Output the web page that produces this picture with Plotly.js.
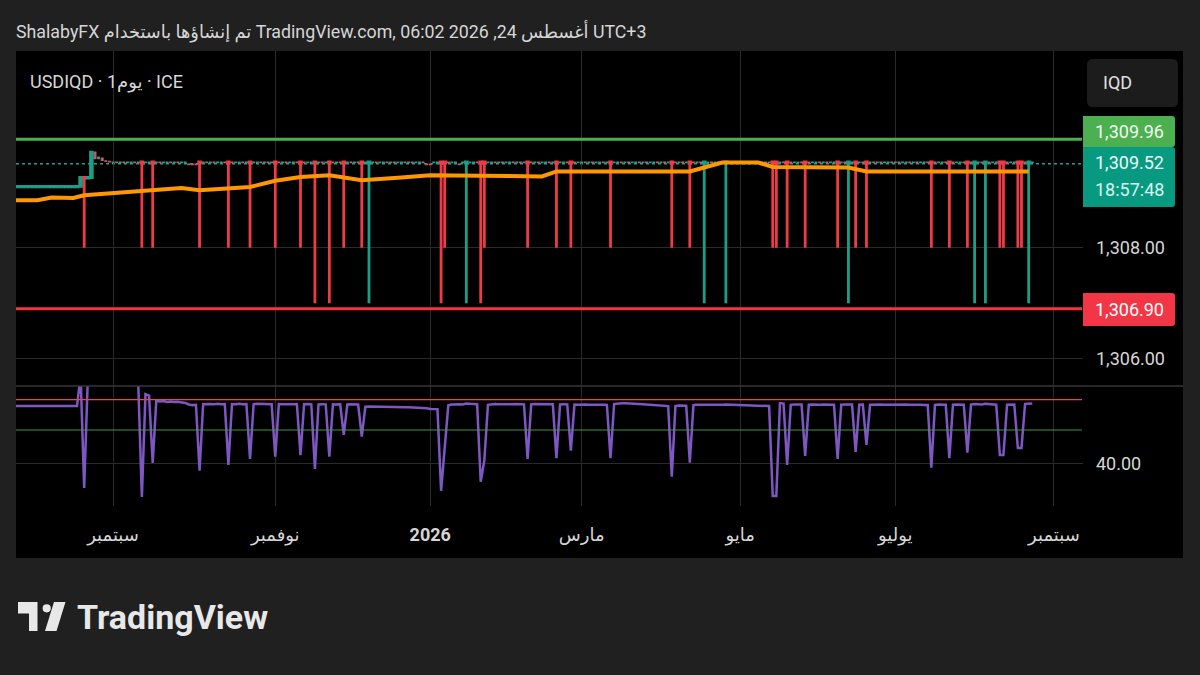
<!DOCTYPE html>
<html>
<head>
<meta charset="utf-8">
<script src="https://cdn.plot.ly/plotly-3.0.1.min.js"></script>
<style>
html,body{margin:0;padding:0;background:#202020;}
#chart{width:1200px;height:675px;}
</style>
</head>
<body>
<div id="chart"></div>
<script>
// ---------------- DATA ----------------
const barDates = [
'2025-07-23','2025-07-24','2025-07-25',                   // W0
'2025-07-28','2025-07-29','2025-07-30','2025-07-31','2025-08-01', // W1
'2025-08-04','2025-08-05','2025-08-06','2025-08-07','2025-08-08', // W2
'2025-08-11','2025-08-12','2025-08-13','2025-08-14','2025-08-15', // W3
'2025-08-18','2025-08-19','2025-08-20','2025-08-21','2025-08-22', // W4
'2025-08-25','2025-08-26','2025-08-27','2025-08-28','2025-08-29', // W5
'2025-09-01','2025-09-02','2025-09-03','2025-09-04','2025-09-05', // W6
'2025-09-08','2025-09-09','2025-09-10','2025-09-11','2025-09-12', // W7
'2025-09-15','2025-09-16','2025-09-17','2025-09-18','2025-09-19', // W8
'2025-09-22','2025-09-23','2025-09-24','2025-09-25','2025-09-26', // W9
'2025-09-29','2025-09-30','2025-10-01','2025-10-02','2025-10-03', // W10
'2025-10-06','2025-10-07','2025-10-08','2025-10-09','2025-10-10', // W11
'2025-10-13','2025-10-14','2025-10-15','2025-10-16','2025-10-17', // W12
'2025-10-20','2025-10-21','2025-10-22','2025-10-23','2025-10-24', // W13
'2025-10-27','2025-10-28','2025-10-29','2025-10-30','2025-10-31', // W14
'2025-11-03','2025-11-04','2025-11-05','2025-11-06','2025-11-07', // W15
'2025-11-10','2025-11-11','2025-11-12','2025-11-13','2025-11-14', // W16
'2025-11-17','2025-11-18','2025-11-19','2025-11-20','2025-11-21', // W17
'2025-11-24','2025-11-25','2025-11-26','2025-11-27','2025-11-28', // W18
'2025-12-01','2025-12-02','2025-12-03','2025-12-04','2025-12-05', // W19
'2025-12-08','2025-12-09','2025-12-10','2025-12-11','2025-12-12', // W20
'2025-12-15','2025-12-16','2025-12-17','2025-12-18','2025-12-19', // W21
'2025-12-22','2025-12-23','2025-12-24','2025-12-25','2025-12-26', // W22
'2025-12-29','2025-12-30','2025-12-31','2026-01-01','2026-01-02', // W23
'2026-01-05','2026-01-06','2026-01-07','2026-01-08','2026-01-09', // W24
'2026-01-12','2026-01-13','2026-01-14','2026-01-15','2026-01-16', // W25
'2026-01-19','2026-01-20','2026-01-21','2026-01-22','2026-01-23', // W26
'2026-01-26','2026-01-27','2026-01-28','2026-01-29','2026-01-30', // W27
'2026-02-02','2026-02-03','2026-02-04','2026-02-05','2026-02-06', // W28
'2026-02-09','2026-02-10','2026-02-11','2026-02-12','2026-02-13', // W29
'2026-02-16','2026-02-17','2026-02-18','2026-02-19','2026-02-20', // W30
'2026-02-23','2026-02-24','2026-02-25','2026-02-26','2026-02-27', // W31
'2026-03-02','2026-03-03','2026-03-04','2026-03-05','2026-03-06', // W32
'2026-03-09','2026-03-10','2026-03-11','2026-03-12','2026-03-13', // W33
'2026-03-16','2026-03-17','2026-03-18','2026-03-19','2026-03-20', // W34
'2026-03-23','2026-03-24','2026-03-25','2026-03-26','2026-03-27', // W35
'2026-03-30','2026-03-31','2026-04-01','2026-04-02','2026-04-03', // W36
'2026-04-06','2026-04-07','2026-04-08','2026-04-09','2026-04-10', // W37
'2026-04-13','2026-04-14','2026-04-15','2026-04-16','2026-04-17', // W38
'2026-04-20','2026-04-21','2026-04-22','2026-04-23','2026-04-24', // W39
'2026-04-27','2026-04-28','2026-04-29','2026-04-30','2026-05-01', // W40
'2026-05-04','2026-05-05','2026-05-06','2026-05-07','2026-05-08', // W41
'2026-05-11','2026-05-12','2026-05-13','2026-05-14','2026-05-15', // W42
'2026-05-18','2026-05-19','2026-05-20','2026-05-21','2026-05-22', // W43
'2026-05-25','2026-05-26','2026-05-27','2026-05-28','2026-05-29', // W44
'2026-06-01','2026-06-02','2026-06-03','2026-06-04','2026-06-05', // W45
'2026-06-08','2026-06-09','2026-06-10','2026-06-11','2026-06-12', // W46
'2026-06-15','2026-06-16','2026-06-17','2026-06-18','2026-06-19', // W47
'2026-06-22','2026-06-23','2026-06-24','2026-06-25','2026-06-26', // W48
'2026-06-29','2026-06-30','2026-07-01','2026-07-02','2026-07-03', // W49
'2026-07-06','2026-07-07','2026-07-08','2026-07-09','2026-07-10', // W50
'2026-07-13','2026-07-14','2026-07-15','2026-07-16','2026-07-17', // W51
'2026-07-20','2026-07-21','2026-07-22','2026-07-23','2026-07-24', // W52
'2026-07-27','2026-07-28','2026-07-29','2026-07-30','2026-07-31', // W53
'2026-08-03','2026-08-04','2026-08-05','2026-08-06','2026-08-07', // W54
'2026-08-10','2026-08-11','2026-08-12','2026-08-13','2026-08-14', // W55
'2026-08-17','2026-08-18','2026-08-19','2026-08-20','2026-08-21', // W56
'2026-08-24'                                              // W57
];

const openPx = [
1309.10,1309.10,1309.10,                 // W0
1309.10,1309.10,1309.10,1309.10,1309.10, // W1
1309.10,1309.10,1309.10,1309.10,1309.10, // W2
1309.10,1309.10,1309.10,1309.10,1309.10, // W3
1309.10,1309.11,1309.27,1309.26,1309.27, // W4
1309.73,1309.61,1309.62,1309.57,1309.56, // W5
1309.54,1309.55,1309.54,1309.55,1309.54, // W6
1309.54,1309.55,1309.54,1309.55,1309.54, // W7
1309.54,1309.55,1309.54,1309.55,1309.54, // W8
1309.54,1309.55,1309.54,1309.55,1309.54, // W9
1309.54,1309.51,1309.51,1309.51,1309.55, // W10
1309.54,1309.55,1309.54,1309.55,1309.54, // W11
1309.54,1309.55,1309.55,1309.55,1309.54, // W12
1309.54,1309.55,1309.54,1309.55,1309.54, // W13
1309.54,1309.55,1309.54,1309.55,1309.54, // W14
1309.55,1309.55,1309.54,1309.55,1309.54, // W15
1309.54,1309.55,1309.55,1309.55,1309.54, // W16
1309.54,1309.55,1309.54,1309.55,1309.54, // W17
1309.55,1309.55,1309.54,1309.55,1309.55, // W18
1309.54,1309.55,1309.54,1309.55,1309.55, // W19
1309.54,1309.53,1309.54,1309.55,1309.54, // W20
1309.54,1309.55,1309.54,1309.55,1309.54, // W21
1309.54,1309.55,1309.54,1309.55,1309.54, // W22
1309.54,1309.55,1309.51,1309.51,1309.54, // W23
1309.54,1309.55,1309.55,1309.55,1309.54, // W24
1309.54,1309.51,1309.54,1309.53,1309.54, // W25
1309.54,1309.55,1309.55,1309.55,1309.54, // W26
1309.54,1309.55,1309.54,1309.55,1309.54, // W27
1309.54,1309.55,1309.54,1309.55,1309.54, // W28
1309.55,1309.55,1309.54,1309.55,1309.54, // W29
1309.54,1309.55,1309.54,1309.55,1309.54, // W30
1309.54,1309.55,1309.55,1309.55,1309.54, // W31
1309.54,1309.55,1309.54,1309.55,1309.54, // W32
1309.54,1309.55,1309.54,1309.55,1309.54, // W33
1309.54,1309.55,1309.54,1309.55,1309.54, // W34
1309.54,1309.55,1309.54,1309.55,1309.54, // W35
1309.54,1309.55,1309.54,1309.55,1309.54, // W36
1309.55,1309.55,1309.54,1309.55,1309.54, // W37
1309.55,1309.55,1309.54,1309.55,1309.53, // W38
1309.54,1309.55,1309.54,1309.55,1309.54, // W39
1309.53,1309.55,1309.54,1309.55,1309.54, // W40
1309.54,1309.55,1309.54,1309.55,1309.54, // W41
1309.54,1309.55,1309.54,1309.55,1309.55, // W42
1309.54,1309.55,1309.55,1309.55,1309.54, // W43
1309.54,1309.55,1309.55,1309.55,1309.54, // W44
1309.54,1309.55,1309.54,1309.55,1309.54, // W45
1309.54,1309.55,1309.54,1309.55,1309.53, // W46
1309.54,1309.55,1309.54,1309.55,1309.55, // W47
1309.54,1309.55,1309.54,1309.55,1309.54, // W48
1309.54,1309.55,1309.54,1309.55,1309.54, // W49
1309.54,1309.55,1309.54,1309.55,1309.54, // W50
1309.54,1309.55,1309.55,1309.55,1309.54, // W51
1309.54,1309.55,1309.55,1309.55,1309.54, // W52
1309.54,1309.55,1309.55,1309.55,1309.53, // W53
1309.54,1309.55,1309.53,1309.55,1309.54, // W54
1309.54,1309.55,1309.55,1309.55,1309.54, // W55
1309.54,1309.55,1309.55,1309.55,1309.53, // W56
1309.54                                  // W57
];

const highPx = [
1309.11,1309.11,1309.11,                 // W0
1309.11,1309.11,1309.11,1309.11,1309.11, // W1
1309.11,1309.11,1309.11,1309.11,1309.11, // W2
1309.11,1309.11,1309.11,1309.11,1309.11, // W3
1309.11,1309.27,1309.28,1309.27,1309.74, // W4
1309.74,1309.65,1309.62,1309.58,1309.56, // W5
1309.55,1309.55,1309.55,1309.55,1309.55, // W6
1309.55,1309.55,1309.55,1309.55,1309.55, // W7
1309.55,1309.55,1309.55,1309.55,1309.55, // W8
1309.55,1309.55,1309.55,1309.55,1309.55, // W9
1309.55,1309.51,1309.51,1309.51,1309.55, // W10
1309.55,1309.55,1309.55,1309.55,1309.55, // W11
1309.55,1309.55,1309.55,1309.55,1309.55, // W12
1309.55,1309.55,1309.55,1309.55,1309.55, // W13
1309.55,1309.55,1309.55,1309.55,1309.55, // W14
1309.55,1309.55,1309.55,1309.55,1309.55, // W15
1309.55,1309.55,1309.55,1309.55,1309.55, // W16
1309.55,1309.55,1309.55,1309.55,1309.55, // W17
1309.55,1309.55,1309.55,1309.55,1309.55, // W18
1309.55,1309.55,1309.55,1309.55,1309.55, // W19
1309.55,1309.55,1309.55,1309.55,1309.55, // W20
1309.55,1309.55,1309.55,1309.55,1309.55, // W21
1309.55,1309.55,1309.55,1309.55,1309.55, // W22
1309.55,1309.55,1309.51,1309.51,1309.55, // W23
1309.55,1309.55,1309.55,1309.55,1309.55, // W24
1309.55,1309.51,1309.55,1309.55,1309.55, // W25
1309.55,1309.55,1309.55,1309.55,1309.55, // W26
1309.55,1309.55,1309.55,1309.55,1309.55, // W27
1309.55,1309.55,1309.55,1309.55,1309.55, // W28
1309.55,1309.55,1309.55,1309.55,1309.55, // W29
1309.55,1309.55,1309.55,1309.55,1309.55, // W30
1309.55,1309.55,1309.55,1309.55,1309.55, // W31
1309.55,1309.55,1309.55,1309.55,1309.55, // W32
1309.55,1309.55,1309.55,1309.55,1309.55, // W33
1309.55,1309.55,1309.55,1309.55,1309.55, // W34
1309.55,1309.55,1309.55,1309.55,1309.55, // W35
1309.55,1309.55,1309.55,1309.55,1309.55, // W36
1309.55,1309.55,1309.55,1309.55,1309.55, // W37
1309.55,1309.55,1309.55,1309.55,1309.55, // W38
1309.55,1309.55,1309.55,1309.55,1309.55, // W39
1309.55,1309.55,1309.55,1309.55,1309.55, // W40
1309.55,1309.55,1309.55,1309.55,1309.55, // W41
1309.55,1309.55,1309.55,1309.55,1309.55, // W42
1309.55,1309.55,1309.55,1309.55,1309.55, // W43
1309.55,1309.55,1309.55,1309.55,1309.55, // W44
1309.55,1309.55,1309.55,1309.55,1309.55, // W45
1309.55,1309.55,1309.55,1309.55,1309.55, // W46
1309.55,1309.55,1309.55,1309.55,1309.55, // W47
1309.55,1309.55,1309.55,1309.55,1309.55, // W48
1309.55,1309.55,1309.55,1309.55,1309.55, // W49
1309.55,1309.55,1309.55,1309.55,1309.55, // W50
1309.55,1309.55,1309.55,1309.55,1309.55, // W51
1309.55,1309.55,1309.55,1309.55,1309.55, // W52
1309.55,1309.55,1309.55,1309.55,1309.55, // W53
1309.55,1309.55,1309.55,1309.55,1309.55, // W54
1309.55,1309.55,1309.55,1309.55,1309.55, // W55
1309.55,1309.55,1309.55,1309.55,1309.55, // W56
1309.55                                  // W57
];

const lowPx = [
1309.10,1309.10,1309.10,                 // W0
1309.10,1309.10,1309.10,1309.10,1309.10, // W1
1309.10,1309.10,1309.10,1309.10,1309.10, // W2
1309.10,1309.10,1309.10,1309.10,1309.10, // W3
1309.10,1309.11,1308.00,1309.26,1309.27, // W4
1309.60,1309.60,1309.57,1309.55,1309.54, // W5
1309.54,1309.54,1309.54,1309.54,1309.54, // W6
1309.54,1309.54,1309.54,1308.00,1309.54, // W7
1309.54,1308.00,1309.54,1309.54,1309.54, // W8
1309.54,1309.54,1309.54,1309.54,1309.54, // W9
1309.54,1309.49,1309.49,1309.49,1308.00, // W10
1309.54,1309.54,1309.54,1309.54,1309.54, // W11
1309.54,1309.54,1308.00,1309.54,1309.54, // W12
1309.54,1309.54,1309.54,1308.00,1309.54, // W13
1309.54,1309.54,1309.54,1309.54,1309.54, // W14
1308.00,1309.54,1309.54,1309.54,1309.54, // W15
1309.54,1309.54,1308.00,1309.54,1309.54, // W16
1309.54,1307.00,1309.54,1309.54,1309.54, // W17
1307.00,1309.54,1309.54,1309.54,1308.00, // W18
1309.54,1309.54,1309.54,1309.54,1308.00, // W19
1309.54,1307.00,1309.54,1309.54,1309.54, // W20
1309.54,1309.54,1309.54,1309.54,1309.54, // W21
1309.54,1309.54,1309.54,1309.54,1309.54, // W22
1309.54,1309.54,1309.49,1309.49,1309.54, // W23
1309.54,1307.00,1308.00,1309.54,1309.54, // W24
1309.54,1309.49,1309.54,1307.00,1309.54, // W25
1309.54,1309.54,1307.00,1308.00,1309.54, // W26
1309.54,1309.54,1309.54,1309.54,1309.54, // W27
1309.54,1309.54,1309.54,1309.54,1309.54, // W28
1308.00,1309.54,1309.54,1309.54,1309.54, // W29
1309.54,1309.54,1309.54,1308.00,1309.54, // W30
1309.54,1309.54,1308.00,1309.54,1309.54, // W31
1309.54,1309.54,1309.54,1309.54,1309.54, // W32
1309.54,1309.54,1309.54,1308.00,1309.54, // W33
1309.54,1309.54,1309.54,1309.54,1309.54, // W34
1309.54,1309.54,1309.54,1309.54,1309.54, // W35
1309.54,1309.54,1309.54,1309.54,1309.54, // W36
1308.00,1309.54,1309.54,1309.54,1309.54, // W37
1308.00,1309.54,1309.54,1309.54,1307.00, // W38
1309.54,1309.54,1309.54,1309.54,1309.54, // W39
1307.00,1309.54,1309.54,1309.54,1309.54, // W40
1309.54,1309.54,1309.54,1309.54,1309.54, // W41
1309.54,1309.54,1309.54,1308.00,1308.00, // W42
1309.54,1309.54,1308.00,1309.54,1309.54, // W43
1309.54,1309.54,1308.00,1309.54,1309.54, // W44
1309.54,1309.54,1309.54,1309.54,1309.54, // W45
1309.54,1308.00,1309.54,1309.54,1307.00, // W46
1309.54,1308.00,1309.54,1309.54,1308.00, // W47
1309.54,1309.54,1309.54,1309.54,1309.54, // W48
1309.54,1309.54,1309.54,1309.54,1309.54, // W49
1309.54,1309.54,1309.54,1309.54,1309.54, // W50
1309.54,1309.54,1308.00,1309.54,1309.54, // W51
1309.54,1309.54,1308.00,1309.54,1309.54, // W52
1309.54,1309.54,1308.00,1309.54,1307.00, // W53
1309.54,1309.54,1307.00,1309.54,1309.54, // W54
1309.54,1308.00,1308.00,1309.54,1309.54, // W55
1309.54,1308.00,1308.00,1309.54,1307.00, // W56
1309.54                                  // W57
];

const closePx = [
1309.11,1309.11,1309.11,                 // W0
1309.11,1309.11,1309.11,1309.11,1309.11, // W1
1309.11,1309.11,1309.11,1309.11,1309.11, // W2
1309.11,1309.11,1309.11,1309.11,1309.11, // W3
1309.11,1309.27,1309.26,1309.27,1309.73, // W4
1309.61,1309.64,1309.58,1309.56,1309.55, // W5
1309.55,1309.54,1309.55,1309.54,1309.55, // W6
1309.55,1309.54,1309.55,1309.53,1309.55, // W7
1309.55,1309.53,1309.55,1309.54,1309.55, // W8
1309.55,1309.54,1309.55,1309.54,1309.55, // W9
1309.55,1309.50,1309.50,1309.50,1309.53, // W10
1309.55,1309.54,1309.55,1309.54,1309.55, // W11
1309.55,1309.54,1309.53,1309.54,1309.55, // W12
1309.55,1309.54,1309.55,1309.53,1309.55, // W13
1309.55,1309.54,1309.55,1309.54,1309.55, // W14
1309.53,1309.54,1309.55,1309.54,1309.55, // W15
1309.55,1309.54,1309.53,1309.54,1309.55, // W16
1309.55,1309.53,1309.55,1309.54,1309.55, // W17
1309.53,1309.54,1309.55,1309.54,1309.53, // W18
1309.55,1309.54,1309.55,1309.54,1309.53, // W19
1309.55,1309.55,1309.55,1309.54,1309.55, // W20
1309.55,1309.54,1309.55,1309.54,1309.55, // W21
1309.55,1309.54,1309.55,1309.54,1309.55, // W22
1309.55,1309.54,1309.50,1309.50,1309.55, // W23
1309.55,1309.53,1309.53,1309.54,1309.55, // W24
1309.55,1309.50,1309.55,1309.55,1309.55, // W25
1309.55,1309.54,1309.53,1309.53,1309.55, // W26
1309.55,1309.54,1309.55,1309.54,1309.55, // W27
1309.55,1309.54,1309.55,1309.54,1309.55, // W28
1309.53,1309.54,1309.55,1309.54,1309.55, // W29
1309.55,1309.54,1309.55,1309.53,1309.55, // W30
1309.55,1309.54,1309.53,1309.54,1309.55, // W31
1309.55,1309.54,1309.55,1309.54,1309.55, // W32
1309.55,1309.54,1309.55,1309.53,1309.55, // W33
1309.55,1309.54,1309.55,1309.54,1309.55, // W34
1309.55,1309.54,1309.55,1309.54,1309.55, // W35
1309.55,1309.54,1309.55,1309.54,1309.55, // W36
1309.53,1309.54,1309.55,1309.54,1309.55, // W37
1309.53,1309.54,1309.55,1309.54,1309.55, // W38
1309.55,1309.54,1309.55,1309.54,1309.55, // W39
1309.55,1309.54,1309.55,1309.54,1309.55, // W40
1309.55,1309.54,1309.55,1309.54,1309.55, // W41
1309.55,1309.54,1309.55,1309.53,1309.53, // W42
1309.55,1309.54,1309.53,1309.54,1309.55, // W43
1309.55,1309.54,1309.53,1309.54,1309.55, // W44
1309.55,1309.54,1309.55,1309.54,1309.55, // W45
1309.55,1309.53,1309.55,1309.54,1309.55, // W46
1309.55,1309.53,1309.55,1309.54,1309.53, // W47
1309.55,1309.54,1309.55,1309.54,1309.55, // W48
1309.55,1309.54,1309.55,1309.54,1309.55, // W49
1309.55,1309.54,1309.55,1309.54,1309.55, // W50
1309.55,1309.54,1309.53,1309.54,1309.55, // W51
1309.55,1309.54,1309.53,1309.54,1309.55, // W52
1309.55,1309.54,1309.53,1309.54,1309.55, // W53
1309.55,1309.54,1309.55,1309.54,1309.55, // W54
1309.55,1309.53,1309.53,1309.54,1309.55, // W55
1309.55,1309.53,1309.53,1309.54,1309.55, // W56
1309.55                                  // W57
];

const rsiValues = [
76.0,76.0,76.0,               // W0
76.0,76.0,76.0,76.0,76.0,     // W1
76.0,76.0,76.0,76.0,76.0,     // W2
76.0,76.0,76.0,76.0,76.0,     // W3
76.0,95.0,24.6,93.0,97.0,     // W4
94.5,94.8,93.6,92.7,92.1,     // W5
91.6,91.2,91.0,90.6,90.4,     // W6
90.1,89.9,89.7,19.0,83.5,     // W7
82.6,40.3,79.4,78.9,79.2,     // W8
78.6,78.8,78.5,78.7,78.3,     // W9
78.0,77.0,76.6,76.8,35.5,     // W10
77.2,77.4,77.3,77.1,77.4,     // W11
77.2,77.3,39.1,77.3,77.1,     // W12
77.4,77.2,77.3,42.8,77.2,     // W13
77.4,77.3,77.1,77.3,77.2,     // W14
44.3,77.3,77.2,77.4,77.2,     // W15
77.1,77.3,45.3,77.2,77.3,     // W16
77.1,36.6,77.0,77.2,77.1,     // W17
44.3,77.1,77.0,77.2,57.9,     // W18
77.0,77.1,76.9,77.0,56.8,     // W19
75.6,75.8,75.7,75.6,75.6,     // W20
75.5,75.5,75.4,75.4,75.3,     // W21
75.3,75.2,75.2,75.1,75.0,     // W22
75.0,74.9,74.6,74.2,74.3,     // W23
74.1,22.9,50.0,76.5,77.0,     // W24
77.2,77.1,77.0,77.6,77.4,     // W25
77.3,77.2,28.6,42.0,76.8,     // W26
77.2,77.3,77.1,77.2,77.3,     // W27
77.2,77.1,77.3,77.2,77.1,     // W28
42.8,77.0,77.3,77.2,77.4,     // W29
77.2,77.3,77.1,43.4,77.0,     // W30
77.2,77.1,48.0,77.0,76.9,     // W31
77.1,77.0,76.8,76.9,77.0,     // W32
76.8,76.9,76.7,43.4,77.3,     // W33
77.6,77.8,77.7,77.5,77.6,     // W34
77.4,77.3,77.2,77.0,76.8,     // W35
76.7,76.5,76.4,76.2,76.0,     // W36
31.7,76.0,76.3,76.4,76.2,     // W37
40.5,76.6,76.8,76.7,77.0,     // W38
76.9,76.8,76.9,76.7,76.8,     // W39
77.0,76.9,76.8,76.7,76.8,     // W40
76.6,76.7,76.5,76.6,76.4,     // W41
76.3,76.2,76.0,19.6,19.6,     // W42
77.9,77.6,39.1,76.8,77.0,     // W43
76.9,77.0,44.7,76.9,77.0,     // W44
76.8,76.9,77.0,76.8,76.9,     // W45
76.8,42.8,76.9,77.0,77.1,     // W46
77.0,47.2,76.8,76.9,51.6,     // W47
76.8,77.0,76.9,77.0,76.8,     // W48
76.9,77.0,76.9,76.8,76.9,     // W49
77.0,76.8,76.9,76.7,76.8,     // W50
76.6,76.7,37.4,76.8,77.0,     // W51
76.9,76.8,43.4,76.9,77.0,     // W52
76.8,76.9,46.8,76.9,77.3,     // W53
77.1,77.0,77.4,77.2,77.0,     // W54
76.9,45.3,45.3,76.9,77.1,     // W55
77.0,49.7,49.7,77.4,77.6,     // W56
77.6                          // W57
];

// moving average (orange), vertices
const maDates = ['2025-07-23','2025-08-01','2025-08-07','2025-08-15','2025-08-20','2025-09-11','2025-09-26','2025-10-03','2025-10-23','2025-11-03','2025-11-12','2025-11-24','2025-12-05','2025-12-22','2026-01-01','2026-01-21','2026-02-13','2026-02-19','2026-04-13','2026-04-17','2026-04-24','2026-05-08','2026-05-14','2026-06-12','2026-06-19','2026-08-21'];
const maValues = [1308.86,1308.86,1308.91,1308.90,1308.95,1309.02,1309.08,1309.04,1309.10,1309.21,1309.28,1309.31,1309.22,1309.27,1309.31,1309.30,1309.29,1309.38,1309.38,1309.45,1309.54,1309.54,1309.46,1309.45,1309.38,1309.38];

const monthTickDates = ['2025-09-01','2025-11-03','2026-01-01','2026-03-02','2026-05-01','2026-07-01','2026-09-01'];
const monthTickLabels = ['سبتمبر','نوفمبر','<b>2026</b>','مارس','مايو','يوليو','سبتمبر'];
const priceTicks = [1306, 1308];
const rsiTicks = [40];

const resistanceLevel = 1309.96;
const supportLevel = 1306.90;
const lastPrice = 1309.52;
const countdownText = '18:57:48';
const rsiUpperLevel = 80;
const rsiLowerLevel = 61;

const headerText = 'ShalabyFX تم إنشاؤها باستخدام TradingView.com, 06:02 2026 ,24 أغسطس UTC+3';
const legendText = 'USDIQD · 1يوم · ICE';
const currencyText = 'IQD';
const logoText = 'TradingView';

// ---------------- RENDERING ----------------
const W = 1200, H = 675;
const px = x => x / W;
const py = y => 1 - y / H;
const noon = d => d + ' 12:00';
const fmt = v => v.toLocaleString('en-US', {minimumFractionDigits: 2, maximumFractionDigits: 2});
const FONT = 'Roboto, "Noto Sans", "DejaVu Sans", sans-serif';
const TXT = '#d6d6d6';
const GRID = '#2a2a2a';

function roundRect(x0, y0, x1, y1, rL, rR) {
  return 'M ' + px(x0 + rL) + ' ' + py(y0) +
    ' L ' + px(x1 - rR) + ' ' + py(y0) +
    ' Q ' + px(x1) + ' ' + py(y0) + ' ' + px(x1) + ' ' + py(y0 + rR) +
    ' L ' + px(x1) + ' ' + py(y1 - rR) +
    ' Q ' + px(x1) + ' ' + py(y1) + ' ' + px(x1 - rR) + ' ' + py(y1) +
    ' L ' + px(x0 + rL) + ' ' + py(y1) +
    ' Q ' + px(x0) + ' ' + py(y1) + ' ' + px(x0) + ' ' + py(y1 - rL) +
    ' L ' + px(x0) + ' ' + py(y0 + rL) +
    ' Q ' + px(x0) + ' ' + py(y0) + ' ' + px(x0 + rL) + ' ' + py(y0) + ' Z';
}
function poly(pts) {
  return 'M ' + pts.map(p => px(p[0]) + ' ' + py(p[1])).join(' L ') + ' Z';
}

// bars that reach down (and the older flat run) are drawn thick; the quiet bars thin, as in the picture
function pick(cond) {
  const idx = barDates.map((d, i) => i).filter(cond);
  return {
    x: idx.map(i => noon(barDates[i])),
    open: idx.map(i => openPx[i]), high: idx.map(i => highPx[i]),
    low: idx.map(i => lowPx[i]), close: idx.map(i => closePx[i])
  };
}
const isThick = i => lowPx[i] < 1309.4;
const thickBars = pick(isThick);
const quietBars = pick(i => !isThick(i));

const xRange = ['2025-07-24 14:00', '2026-09-11 13:40'];
const xCommon = {
  type: 'date',
  rangebreaks: [{bounds: ['sat', 'mon']}],
  range: xRange,
  domain: [px(16), px(1083)],
  showgrid: true, gridcolor: GRID, gridwidth: 1,
  zeroline: false, showline: false, ticks: '',
  tickvals: monthTickDates.map(noon),
  ticktext: monthTickLabels,
  tickfont: {family: FONT, size: 18, color: TXT},
  fixedrange: true
};

const traces = [
  {
    type: 'scatter', mode: 'lines',
    x: maDates.map(noon), y: maValues,
    xaxis: 'x', yaxis: 'y',
    line: {color: '#ff9800', width: 4},
    hoverinfo: 'skip', showlegend: false
  },
  Object.assign({
    type: 'candlestick', xaxis: 'x', yaxis: 'y',
    increasing: {line: {color: '#2a9d8c', width: 1.2}, fillcolor: '#2a9d8c'},
    decreasing: {line: {color: '#c85a64', width: 1.2}, fillcolor: '#c85a64'},
    whiskerwidth: 0, hoverinfo: 'skip', showlegend: false
  }, quietBars),
  Object.assign({
    type: 'candlestick', xaxis: 'x', yaxis: 'y',
    increasing: {line: {color: '#1a9e87', width: 2.8}, fillcolor: '#1a9e87'},
    decreasing: {line: {color: '#ef3a48', width: 2.8}, fillcolor: '#ef3a48'},
    whiskerwidth: 0, hoverinfo: 'skip', showlegend: false
  }, thickBars),
  {
    type: 'scatter', mode: 'lines',
    x: barDates.map(noon), y: rsiValues,
    xaxis: 'x2', yaxis: 'y2',
    line: {color: '#7e57c2', width: 2.5},
    hoverinfo: 'skip', showlegend: false
  }
];

const shapes = [
  {type: 'rect', xref: 'paper', yref: 'paper', x0: px(16), x1: px(1183), y0: py(558), y1: py(51),
   fillcolor: '#000000', line: {width: 0}, layer: 'below'},
  {type: 'line', xref: 'paper', yref: 'paper', x0: px(16), x1: px(1183), y0: py(386), y1: py(386),
   line: {color: '#363636', width: 1.5}},
  {type: 'line', xref: 'paper', yref: 'y', x0: px(16), x1: px(1082), y0: lastPrice, y1: lastPrice,
   line: {color: '#2a9d8c', width: 1.5, dash: 'dot'}, layer: 'below'},
  {type: 'line', xref: 'paper', yref: 'y', x0: px(16), x1: px(1082), y0: resistanceLevel, y1: resistanceLevel,
   line: {color: '#4caf50', width: 3}},
  {type: 'line', xref: 'paper', yref: 'y', x0: px(16), x1: px(1082), y0: supportLevel, y1: supportLevel,
   line: {color: '#f23645', width: 3}},
  {type: 'line', xref: 'paper', yref: 'y2', x0: px(16), x1: px(1082), y0: rsiUpperLevel, y1: rsiUpperLevel,
   line: {color: '#e8444f', width: 1.2}},
  {type: 'line', xref: 'paper', yref: 'y2', x0: px(16), x1: px(1082), y0: rsiLowerLevel, y1: rsiLowerLevel,
   line: {color: '#3f9a45', width: 1.2}},
  // currency button
  {type: 'path', xref: 'paper', yref: 'paper', path: roundRect(1087, 59, 1178, 107, 6, 6),
   fillcolor: '#1c1c1c', line: {width: 0}},
  // price labels
  {type: 'path', xref: 'paper', yref: 'paper', path: roundRect(1083, 116, 1175, 147, 0, 3),
   fillcolor: '#4caf50', line: {width: 0}},
  {type: 'path', xref: 'paper', yref: 'paper', path: roundRect(1083, 147, 1175, 207, 0, 3),
   fillcolor: '#089981', line: {width: 0}},
  {type: 'path', xref: 'paper', yref: 'paper', path: roundRect(1083, 293, 1175, 326, 0, 3),
   fillcolor: '#f23645', line: {width: 0}},
  // logo mark
  {type: 'path', xref: 'paper', yref: 'paper',
   path: poly([[18, 602], [37.5, 602], [37.5, 631], [29, 631], [29, 613.5], [18, 613.5]]),
   fillcolor: '#e8e8e8', line: {width: 0}},
  {type: 'circle', xref: 'paper', yref: 'paper', x0: px(42.6), x1: px(50.8), y0: py(612.4), y1: py(604.2),
   fillcolor: '#e8e8e8', line: {width: 0}},
  {type: 'path', xref: 'paper', yref: 'paper',
   path: poly([[54, 602], [65.5, 602], [56.5, 631], [45, 631]]),
   fillcolor: '#e8e8e8', line: {width: 0}}
];

const ann = (x, y, text, opts) => Object.assign({
  xref: 'paper', yref: 'paper', x: px(x), y: py(y), text: text, showarrow: false,
  xanchor: 'left', yanchor: 'middle', font: {family: FONT, size: 18, color: TXT}
}, opts || {});

const annotations = [
  ann(14, 31, headerText, {font: {family: FONT, size: 17.8, color: TXT}}),
  ann(28, 82, legendText),
  ann(1101, 83, currencyText, {font: {family: FONT, size: 18, color: '#e0e0e0'}}),
  ann(1129, 131.5, fmt(resistanceLevel), {xanchor: 'center', font: {family: FONT, size: 18, color: '#f1fbf1'}}),
  ann(1129, 162.5, fmt(lastPrice), {xanchor: 'center', font: {family: FONT, size: 18, color: '#eafaf7'}}),
  ann(1129, 190, countdownText, {xanchor: 'center', font: {family: FONT, size: 18, color: '#d8f3ee'}}),
  ann(1129, 309, fmt(supportLevel), {xanchor: 'center', font: {family: FONT, size: 18, color: '#ffffff'}}),
  ann(75, 617, logoText, {font: {family: FONT, size: 34, color: '#e8e8e8', weight: 'bold'}})
];

// guard: report if the data arrays do not line up
const lens = [barDates, openPx, highPx, lowPx, closePx, rsiValues].map(a => a.length);
if (new Set(lens).size > 1) {
  annotations.push(ann(300, 617, 'LEN ' + lens.join(','), {font: {size: 16, color: '#ff0'}}));
}

const layout = {
  width: W, height: H,
  margin: {l: 0, r: 0, t: 0, b: 0, pad: 0},
  paper_bgcolor: '#202020',
  plot_bgcolor: '#000000',
  font: {family: FONT, size: 18, color: TXT},
  showlegend: false,
  hovermode: false,
  boxmode: 'overlay',
  xaxis: Object.assign({}, xCommon, {anchor: 'y', showticklabels: false, rangeslider: {visible: false}}),
  xaxis2: Object.assign({}, xCommon, {anchor: 'y2', showticklabels: true, ticklabelstandoff: 16}),
  yaxis: {
    domain: [py(386), py(51)], range: [1305.504, 1311.555], side: 'right', anchor: 'x',
    tickvals: priceTicks, ticktext: priceTicks.map(fmt), ticks: '',
    showgrid: true, gridcolor: GRID, zeroline: false, showline: false,
    tickfont: {family: FONT, size: 18, color: TXT}, ticklabelstandoff: 12, fixedrange: true
  },
  yaxis2: {
    domain: [py(506), py(386)], range: [13.35, 88.59], side: 'right', anchor: 'x2',
    tickvals: rsiTicks, ticktext: rsiTicks.map(fmt), ticks: '',
    showgrid: true, gridcolor: GRID, zeroline: false, showline: false,
    tickfont: {family: FONT, size: 18, color: TXT}, ticklabelstandoff: 12, fixedrange: true
  },
  shapes: shapes,
  annotations: annotations
};

Plotly.newPlot('chart', traces, layout, {displayModeBar: false, staticPlot: true});
</script>
</body>
</html>
